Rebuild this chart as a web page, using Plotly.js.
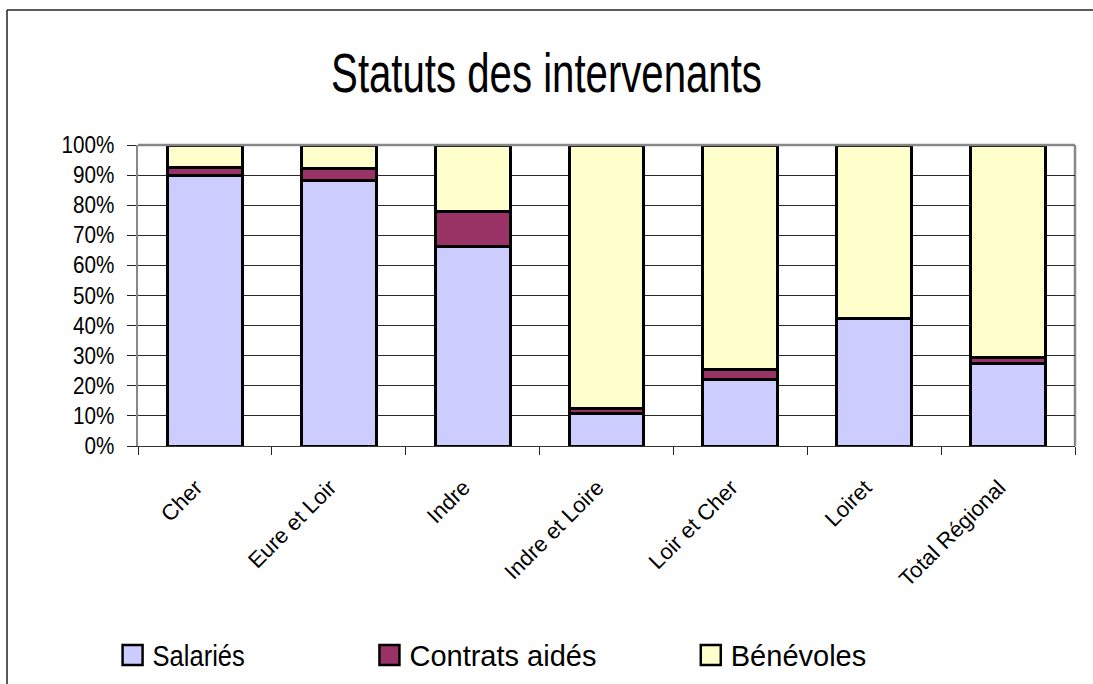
<!DOCTYPE html>
<html>
<head>
<meta charset="utf-8">
<script src="https://cdn.plot.ly/plotly-3.0.1.min.js"></script>
<style>
  html, body { margin: 0; padding: 0; background: #fff; overflow: hidden; }
  #chart { width: 1093px; height: 684px; }
</style>
</head>
<body>
<div id="chart"></div>
<script>
const categories = ["Cher", "Eure et Loir", "Indre", "Indre et Loire", "Loir et Cher", "Loiret", "Total Régional"];
const salaries   = [0.898, 0.881, 0.664, 0.109, 0.221, 0.424, 0.275];
const contrats   = [0.027, 0.041, 0.114, 0.014, 0.034, 0.000, 0.020];
const benevoles  = [0.075, 0.078, 0.222, 0.877, 0.745, 0.576, 0.705];
const yTickVals  = [0, 0.1, 0.2, 0.3, 0.4, 0.5, 0.6, 0.7, 0.8, 0.9, 1.0];
const yTickText  = ["0%", "10%", "20%", "30%", "40%", "50%", "60%", "70%", "80%", "90%", "100%"];

const font = "Liberation Sans, Arial, sans-serif";

function barTrace(name, vals, color, legendId) {
  return {
    type: "bar", name: name, x: categories, y: vals,
    marker: { color: color, line: { color: "#000", width: 3 } },
    width: 0.56, legend: legendId, hoverinfo: "x+y+name"
  };
}

const data = [
  barTrace("Salariés", salaries, "#CCCCFF", "legend"),
  barTrace("Contrats aidés", contrats, "#993366", "legend2"),
  barTrace("Bénévoles", benevoles, "#FFFFCC", "legend3")
];

const legendBase = {
  orientation: "h", xref: "container", yref: "container",
  yanchor: "middle", xanchor: "left", y: 0.042,
  font: { family: font, size: 29, color: "#000" },
  bgcolor: "rgba(0,0,0,0)", itemclick: false, itemdoubleclick: false
};

// outer chart frame (top and left edges only), in paper fractions of the plot area
const W = 1093, H = 684, mL = 138, mR = 18, mT = 145, mB = 238;
const pw = W - mL - mR, ph = H - mT - mB;
const fx0 = (7 - mL) / pw, fx1 = (W - mL) / pw;
const fy1 = 1 + (mT - 10) / ph, fy0 = -(mB + 5) / ph;

const layout = {
  width: W, height: H,
  paper_bgcolor: "#fff", plot_bgcolor: "#fff",
  margin: { l: mL, r: mR, t: mT, b: mB },
  barmode: "stack",
  showlegend: true,
  title: {
    text: "Statuts des intervenants",
    font: { family: font, size: 55, color: "#000" },
    x: 0.5, xref: "container", xanchor: "center",
    y: 0.893, yref: "container", yanchor: "middle"
  },
  xaxis: {
    type: "category",
    tickangle: -45,
    tickson: "boundaries",
    ticks: "outside", ticklen: 8, tickcolor: "#222", tickwidth: 1,
    ticklabelstandoff: 19,
    ticklabelshift: -9,
    showline: true, linecolor: "#333", linewidth: 1,
    showgrid: false,
    tickfont: { family: font, size: 22, color: "#000" },
    zeroline: false
  },
  yaxis: {
    range: [0, 1],
    tickvals: yTickVals, ticktext: yTickText,
    ticks: "outside", ticklen: 9, tickcolor: "#222", tickwidth: 1,
    ticklabelstandoff: 8,
    showline: true, linecolor: "#888", linewidth: 2,
    showgrid: true, gridcolor: "#2a2a2a", gridwidth: 1,
    tickfont: { family: font, size: 23, color: "#000" },
    zeroline: false, fixedrange: true
  },
  shapes: [
    { type: "line", xref: "paper", yref: "paper", x0: 0, x1: 1, y0: 1, y1: 1,
      line: { color: "#888", width: 2.5 }, layer: "above" },
    { type: "line", xref: "paper", yref: "paper", x0: 1, x1: 1, y0: 0, y1: 1,
      line: { color: "#888", width: 2.5 }, layer: "below" },
    { type: "line", xref: "paper", yref: "paper", x0: fx0, x1: fx1, y0: fy1, y1: fy1,
      line: { color: "#222", width: 1.5 }, layer: "above" },
    { type: "line", xref: "paper", yref: "paper", x0: fx0, x1: fx0, y0: fy0, y1: fy1,
      line: { color: "#222", width: 1.5 }, layer: "above" }
  ],
  legend:  Object.assign({}, legendBase, { x: 0.103 }),
  legend2: Object.assign({}, legendBase, { x: 0.338 }),
  legend3: Object.assign({}, legendBase, { x: 0.632 })
};

function squeeze(selector, k) {
  document.querySelectorAll(selector).forEach(function (el) {
    const w = el.getComputedTextLength();
    if (w > 0) {
      el.setAttribute("textLength", (w * k).toFixed(1));
      el.setAttribute("lengthAdjust", "spacingAndGlyphs");
    }
  });
}

Plotly.newPlot("chart", data, layout, { displayModeBar: false, staticPlot: true }).then(function () {
  squeeze("#chart .gtitle", 0.73);
  squeeze("#chart .ytick text", 0.9);
  squeeze("#chart .legend .legendtext", 0.88);
  squeeze("#chart .legend2 .legendtext", 0.85);
  squeeze("#chart .legend3 .legendtext", 0.92);
  document.querySelectorAll("#chart .legendpoints path").forEach(function (p) {
    p.setAttribute("d", "M10,10H-10V-10H10Z");
    p.style.strokeWidth = "2.5px";
  });
});
</script>
</body>
</html>
